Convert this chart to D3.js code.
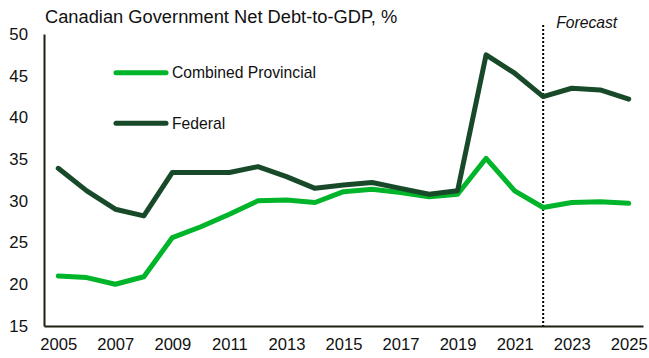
<!DOCTYPE html>
<html>
<head>
<meta charset="utf-8">
<script src="https://cdn.jsdelivr.net/npm/d3@7"></script>
<style>
  html, body { margin: 0; padding: 0; background: #fff; }
  svg { display: block; font-family: "Liberation Sans", Arial, sans-serif; }
</style>
</head>
<body>
<svg id="chart" width="649" height="358"></svg>
<script>
// Net debt as a share of GDP, by fiscal year
const years = [2005, 2006, 2007, 2008, 2009, 2010, 2011, 2012, 2013, 2014, 2015,
               2016, 2017, 2018, 2019, 2020, 2021, 2022, 2023, 2024, 2025];
const provincial = [21.0, 20.8, 20.0, 20.9, 25.6, 26.9, 28.4, 30.0, 30.1, 29.8, 31.1,
                    31.4, 31.0, 30.5, 30.8, 35.1, 31.2, 29.2, 29.8, 29.9, 29.7];
const federal = [33.9, 31.2, 29.0, 28.2, 33.4, 33.4, 33.4, 34.1, 32.9, 31.5, 31.9,
                 32.2, 31.5, 30.8, 31.2, 47.5, 45.3, 42.5, 43.5, 43.3, 42.2];
const yTicks = [15, 20, 25, 30, 35, 40, 45, 50];
const xTicks = [2005, 2007, 2009, 2011, 2013, 2015, 2017, 2019, 2021, 2023, 2025];
const forecastStart = 2022;
const seriesNames = ["Combined Provincial", "Federal"];

const colors = { provincial: "#00b52a", federal: "#184a2a", axis: "#1f1f12" };

const svg = d3.select("#chart");
const plot = { left: 44, right: 643, top: 34, bottom: 326 };

const x = d3.scaleLinear().domain([2004.5, 2025.5]).range([plot.left, plot.right]);
const y = d3.scaleLinear().domain([15, 50]).range([plot.bottom, plot.top]);

// Title
svg.append("text")
  .attr("x", 45).attr("y", 23)
  .attr("font-size", 18.3)
  .attr("fill", "#111")
  .text("Canadian Government Net Debt-to-GDP, %");

// Y axis
const yAxis = d3.axisLeft(y).tickValues(yTicks).tickSize(0).tickPadding(16);
const gy = svg.append("g").attr("transform", `translate(${plot.left},0)`).call(yAxis);
gy.select(".domain").attr("stroke", colors.axis).attr("stroke-width", 2);
gy.selectAll("text").attr("font-size", 16.8).attr("fill", "#111")
  .attr("font-family", "Liberation Sans, Arial, sans-serif");

// X axis
const xAxis = d3.axisBottom(x).tickValues(xTicks).tickFormat(d3.format("d"))
  .tickSize(0).tickPadding(12);
const gx = svg.append("g").attr("transform", `translate(0,${plot.bottom})`).call(xAxis);
gx.select(".domain").attr("stroke", colors.axis).attr("stroke-width", 2);
gx.selectAll("text").attr("font-size", 16.6).attr("fill", "#111")
  .attr("font-family", "Liberation Sans, Arial, sans-serif");

// Forecast divider
svg.append("line")
  .attr("x1", x(forecastStart)).attr("x2", x(forecastStart))
  .attr("y1", 25).attr("y2", plot.bottom)
  .attr("stroke", "#000").attr("stroke-width", 2)
  .attr("stroke-dasharray", "2,2");
svg.append("text")
  .attr("x", x(forecastStart) + 13).attr("y", 28)
  .attr("font-size", 15.7).attr("font-style", "italic").attr("fill", "#111")
  .text("Forecast");

// Series lines
const line = d3.line().x((d, i) => x(years[i])).y(d => y(d));
[[provincial, colors.provincial], [federal, colors.federal]].forEach(([vals, c]) => {
  svg.append("path")
    .attr("d", line(vals))
    .attr("fill", "none")
    .attr("stroke", c)
    .attr("stroke-width", 5)
    .attr("stroke-linecap", "round")
    .attr("stroke-linejoin", "round");
});

// Legend
const legend = [
  { name: seriesNames[0], color: colors.provincial, y: 72.7 },
  { name: seriesNames[1], color: colors.federal, y: 123.3 }
];
legend.forEach(d => {
  svg.append("line")
    .attr("x1", 116).attr("x2", 166)
    .attr("y1", d.y).attr("y2", d.y)
    .attr("stroke", d.color).attr("stroke-width", 5)
    .attr("stroke-linecap", "round");
  svg.append("text")
    .attr("x", 172).attr("y", d.y)
    .attr("dy", "0.35em")
    .attr("font-size", 15.7).attr("fill", "#111")
    .text(d.name);
});
</script>
</body>
</html>
